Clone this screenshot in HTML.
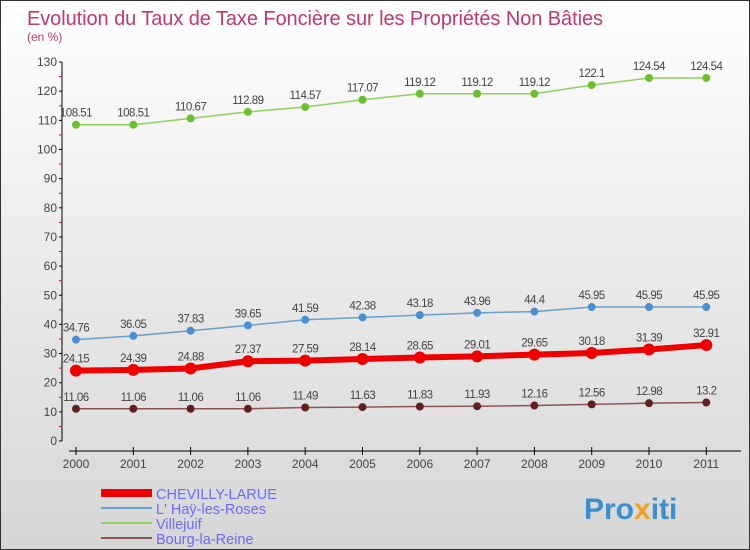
<!DOCTYPE html>
<html><head><meta charset="utf-8"><style>
body{margin:0}
#wrap{position:relative;width:750px;height:550px;overflow:hidden;box-sizing:border-box;border:1px solid #333;background:linear-gradient(#ffffff 0%,#f2f2f2 30%,#d6d6d6 100%);font-family:"Liberation Sans",sans-serif}
svg text{font-family:"Liberation Sans",sans-serif}
</style></head><body>
<div id="wrap">
<svg id="chart" width="750" height="550">
<text x="26" y="24" font-size="20" fill="#c0396a" textLength="576">Evolution du Taux de Taxe Foncière sur les Propriétés Non Bâties</text>
<text x="26" y="40" font-size="12" fill="#c0396a">(en %)</text>
<g id="axes"></g><g id="series"></g><g id="legend"></g>
<text x="583" y="518" font-size="30" font-weight="bold" fill="#3a8fd0">Pro<tspan fill="#f0a020">x</tspan>iti</text>
</svg>
</div>
<script>
const years=["2000","2001","2002","2003","2004","2005","2006","2007","2008","2009","2010","2011"];
const yTicks=[0,10,20,30,40,50,60,70,80,90,100,110,120,130];
const chevilly=[24.15,24.39,24.88,27.37,27.59,28.14,28.65,29.01,29.65,30.18,31.39,32.91];
const hay=[34.76,36.05,37.83,39.65,41.59,42.38,43.18,43.96,44.4,45.95,45.95,45.95];
const villejuif=[108.51,108.51,110.67,112.89,114.57,117.07,119.12,119.12,119.12,122.1,124.54,124.54];
const bourg=[11.06,11.06,11.06,11.06,11.49,11.63,11.83,11.93,12.16,12.56,12.98,13.2];
const NS="http://www.w3.org/2000/svg";
const xS=i=>75+i*57.3;
const yS=v=>440-v*2.915;
function mk(tag,attrs,parent){const e=document.createElementNS(NS,tag);for(const k in attrs)e.setAttribute(k,attrs[k]);parent.appendChild(e);return e;}
const axes=document.getElementById('axes');
let yl=mk('line',{x1:61,y1:yS(130),x2:61,y2:440,stroke:'#000'},axes);


yTicks.forEach(v=>{
 mk('line',{x1:58,x2:61,y1:yS(v),y2:yS(v),stroke:'#000'},axes);
 if(v<130) mk('line',{x1:58,x2:61,y1:yS(v+5),y2:yS(v+5),stroke:'#e00'},axes);
 const t=mk('text',{x:56,y:yS(v)+4,'text-anchor':'end','font-size':12,fill:'#444'},axes);
 t.textContent=v;
 
 
});
let xl=mk('line',{x1:68,y1:450,x2:740,y2:450,stroke:'#000'},axes);


years.forEach((y,i)=>{
 mk('line',{x1:xS(i),x2:xS(i),y1:446,y2:454,stroke:'#000'},axes);
 const t=mk('text',{x:xS(i),y:467,'text-anchor':'middle','font-size':12,fill:'#444'},axes);
 t.textContent=y;
 
 
});
const ser=[
 {d:villejuif,c:'#8fd060',pc:'#6cc030',w:1.5,r:4,name:'series-villejuif'},
 {d:hay,c:'#6aa0cc',pc:'#4a90d0',w:1.5,r:4,name:'series-lhay-les-roses'},
 {d:bourg,c:'#8a5555',pc:'#602020',w:1.5,r:4,name:'series-bourg-la-reine'},
 {d:chevilly,c:'#ee0000',pc:'#ee0000',w:6,r:6,name:'series-chevilly-larue'}
];
const sg=document.getElementById('series');
ser.forEach(s=>{
 const g=mk('g',{},sg);
 
 
 mk('polyline',{points:s.d.map((v,i)=>xS(i)+','+yS(v)).join(' '),fill:'none',stroke:s.c,'stroke-width':s.w},g);
 s.d.forEach((v,i)=>{
  const p=mk('circle',{cx:xS(i),cy:yS(v),r:s.r,fill:s.pc},g);
  
  
  const t=mk('text',{x:xS(i),y:yS(v)-8,'text-anchor':'middle','font-size':11.5,fill:'#444','letter-spacing':'-0.5'},g);
  t.textContent=String(v);
  
  
 });
});
const leg=[['CHEVILLY-LARUE','#ee0000',8],["L' Haÿ-les-Roses",'#6aa0cc',2],['Villejuif','#8fd060',2],['Bourg-la-Reine','#8a5555',2]];
const lg=document.getElementById('legend');
leg.forEach((l,i)=>{
 const y=492+i*15;
 const g=mk('g',{},lg);
 
 
 mk('line',{x1:100,x2:151,y1:y,y2:y,stroke:l[1],'stroke-width':l[2]},g);
 const t=mk('text',{x:155,y:y+6,'font-size':14.5,fill:'#6a6aff'},g);
 t.textContent=l[0];
});
</script>
</body></html>
